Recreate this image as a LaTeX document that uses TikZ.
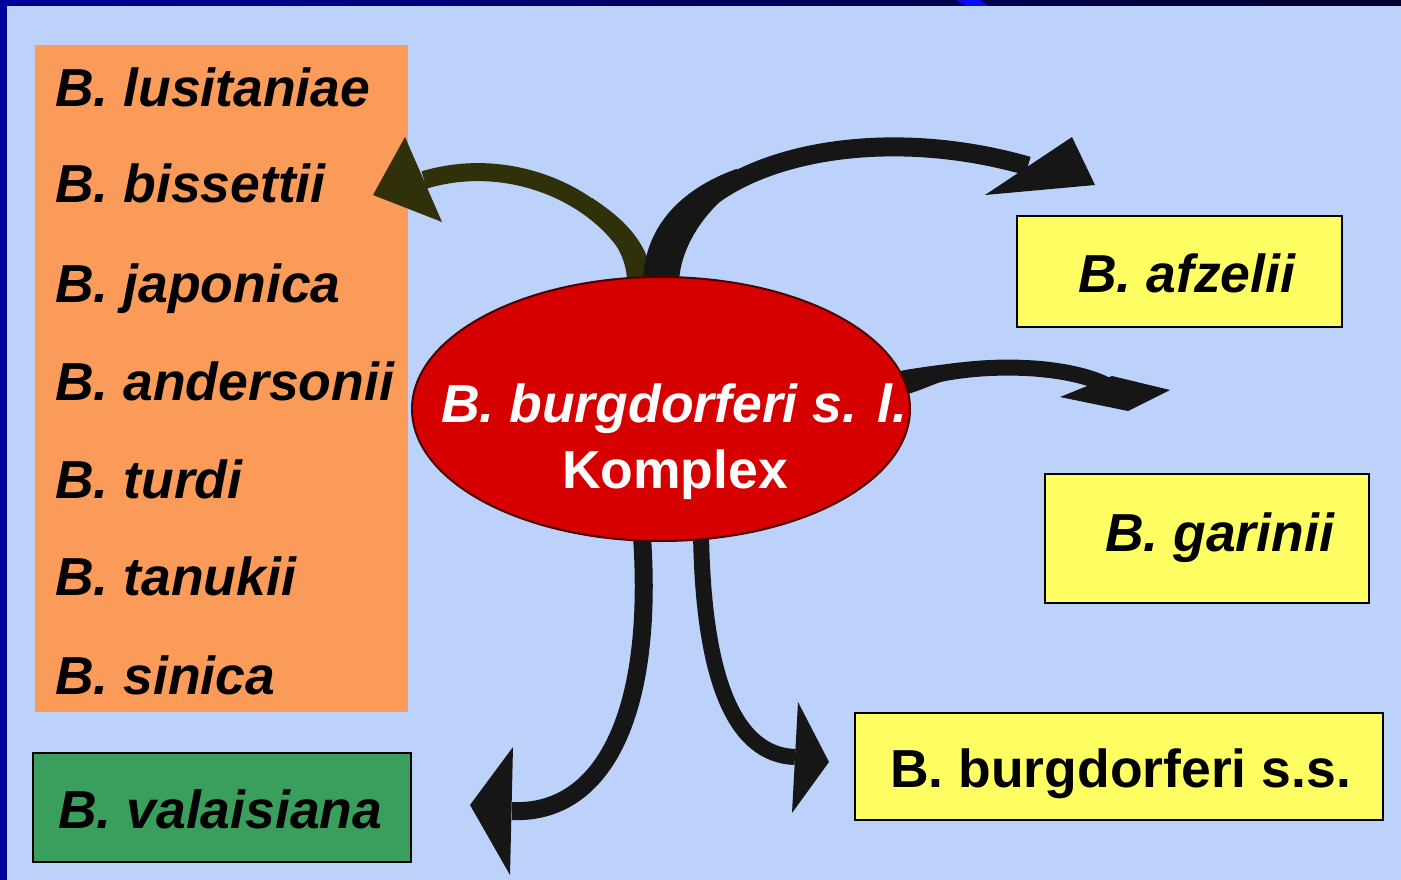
\documentclass[tikz,border=0pt]{standalone}
\usepackage{fontspec}
\setmainfont{Liberation Sans}
\usetikzlibrary{shapes.geometric}
\pgfdeclarelayer{bg}
\pgfdeclarelayer{arr}
\pgfsetlayers{bg,arr,main}
\definecolor{bgblue}{RGB}{189,210,250}
\definecolor{frameblue}{RGB}{0,0,155}
\definecolor{framedark}{RGB}{0,0,45}
\definecolor{brightblue}{RGB}{10,10,250}
\definecolor{orangebox}{RGB}{250,155,90}
\definecolor{yellowbox}{RGB}{255,255,100}
\definecolor{greenbox}{RGB}{58,158,92}
\definecolor{ellred}{RGB}{215,0,0}
\definecolor{arrolive}{RGB}{48,48,10}
\definecolor{arrblack}{RGB}{22,22,22}
\begin{document}
\begin{tikzpicture}[x=1pt,y=-1pt,
  box/.style={rectangle, inner sep=0pt, outer sep=0pt},
  framedbox/.style={box, draw=black, line width=2.5pt},
  lbl/.style={inner sep=0pt, anchor=base west, text=black,
    font=\fontsize{53.5}{60}\selectfont\bfseries\itshape},
  ulbl/.style={lbl, font=\fontsize{53.5}{60}\selectfont\bfseries},
  ellstyle/.style={ellipse, draw=black!70!red, line width=2pt, fill=ellred,
    minimum width=498pt, minimum height=264pt, inner sep=0pt},
  olvshaft/.style={draw=arrolive},
  blkshaft/.style={draw=arrblack}
]
\useasboundingbox (0,0) rectangle (1401,880);
\begin{pgfonlayer}{bg}
  \fill[bgblue] (0,0) rectangle (1401,880);
  \shade[left color=frameblue, right color=framedark] (0,0) rectangle (1401,6);
  \fill[frameblue] (0,0) rectangle (7,880);
  \fill[brightblue] (957,0) -- (980,0) -- (988,6) -- (966,6) -- cycle;
  % boxes
  \node[box, fill=orangebox, minimum width=373pt, minimum height=667pt] (list) at (221.5,378.5) {};
  \node[framedbox, fill=greenbox, minimum width=378pt, minimum height=109pt] (val) at (222,807.5) {};
  \node[framedbox, fill=yellowbox, minimum width=325pt, minimum height=111pt] (afz) at (1179.5,271.5) {};
  \node[framedbox, fill=yellowbox, minimum width=324pt, minimum height=129pt] (gar) at (1207,538.5) {};
  \node[framedbox, fill=yellowbox, minimum width=528pt, minimum height=107pt] (bss) at (1119,766.5) {};
\end{pgfonlayer}

% texts
\node[lbl] (l1) at (55,107) {B. lusitaniae};
\node[lbl] (l2) at (55,203) {B. bissettii};
\node[lbl] (l3) at (55,302) {B. japonica};
\node[lbl] (l4) at (55,400) {B. andersonii};
\node[lbl] (l5) at (55,498) {B. turdi};
\node[lbl] (l6) at (55,595) {B. tanukii};
\node[lbl] (l7) at (55,694) {B. sinica};
\node[lbl] (tval) at (58,828) {B. valaisiana};
\node[lbl] (tafz) at (1078,292) {B. afzelii};
\node[lbl] (tgar) at (1105,551) {B. garinii};
\node[ulbl] (tbss) at (890,787) {B. burgdorferi s.s.};

% central ellipse
\node[ellstyle] (ell) at (661,409) {};
\node[lbl, anchor=base, text=white] (e1) at (674,422) {B. burgdorferi s. l.};
\node[ulbl, anchor=base, text=white] (e2) at (675,488) {Komplex};

\begin{pgfonlayer}{arr}
  % arrow to the orange list
  \coordinate (a1b) at (424,180);
  \coordinate (a1t) at (373,195);
  \coordinate (a1u) at (405,137);
  \coordinate (a1l) at (442,222);
  \draw[olvshaft, line width=18pt, shorten <=-8pt] (ell.98.8) .. controls (628,210) and (524,150) .. (a1b);
  \fill[arrolive] (653,285) .. controls (651,240) and (617,214.5) .. (592,198)
     -- (583.1,211.2) .. controls (603.3,226) and (628,250) .. (627,285) -- cycle;
  \fill[arrolive] (a1t) -- (a1u) -- (a1l) -- cycle;
  % arrow to afzelii
  \coordinate (a2b) at (1028,166);
  \coordinate (a2t) at (1095,185);
  \coordinate (a2u) at (1072,137);
  \coordinate (a2l) at (985,195);
  \draw[blkshaft, line width=19pt, shorten <=-8pt] (ell.90.4) .. controls (665,170) and (850,115) .. (a2b);
  \fill[arrblack] (643,285) .. controls (643,220) and (690,185.5) .. (736.9,168.8)
     -- (744.1,184.2) .. controls (717.3,197.5) and (679,240) .. (679,285) -- cycle;
  \fill[arrblack] (a2t) -- (a2u) -- (a2l) -- cycle;
  % arrow to garinii
  \coordinate (a3b) at (1112,388);
  \draw[blkshaft, line width=16pt, shorten <=-8pt] (ell.6) .. controls (950,362) and (1065,360) .. (a3b);
  \fill[arrblack] (900,371) .. controls (915,368) and (940,364.8) .. (959.9,362.5)
     -- (961.5,376.5) .. controls (941.7,379) and (920,392) .. (900,396) -- cycle;
  \fill[arrblack] (1060,397) -- (1128,411) -- (1170,390) -- (1112,376) -- cycle;
  % arrow to valaisiana
  \coordinate (a4b) at (512,811);
  \coordinate (a4t) at (470,805);
  \coordinate (a4u) at (513,747);
  \coordinate (a4l) at (510,875);
  \draw[blkshaft, line width=18pt, shorten <=-8pt] (ell.262.4) .. controls (655,720) and (600,815) .. (a4b);
  \fill[arrblack] (a4t) -- (a4u) -- (a4l) -- cycle;
  % arrow to burgdorferi s.s.
  \coordinate (a5b) at (795,757);
  \coordinate (a5t) at (829,762);
  \coordinate (a5u) at (798,702);
  \coordinate (a5l) at (792,813);
  \draw[blkshaft, line width=16pt, shorten <=-8pt] (ell.287.4) .. controls (703,680) and (735,755) .. (a5b);
  \fill[arrblack] (a5t) -- (a5u) -- (a5l) -- cycle;
\end{pgfonlayer}
\end{tikzpicture}
\end{document}
